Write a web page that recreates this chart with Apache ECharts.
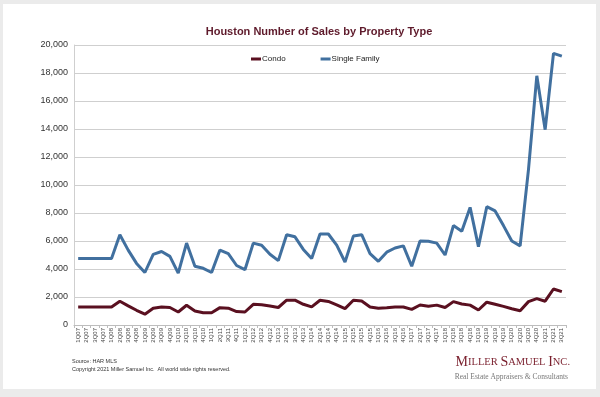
<!DOCTYPE html>
<html>
<head>
<meta charset="utf-8">
<script src="https://cdn.jsdelivr.net/npm/echarts@6/dist/echarts.min.js"></script>
<style>
  html, body { margin: 0; padding: 0; background: #ebebeb; }
  #main { width: 600px; height: 397px; }
</style>
</head>
<body>
<div id="main"></div>
<script>
// quarters, 1Q07 .. 3Q21
var quarters = [
  '1Q07', '2Q07', '3Q07', '4Q07', '1Q08', '2Q08', '3Q08', '4Q08',
  '1Q09', '2Q09', '3Q09', '4Q09', '1Q10', '2Q10', '3Q10', '4Q10',
  '1Q11', '2Q11', '3Q11', '4Q11', '1Q12', '2Q12', '3Q12', '4Q12',
  '1Q13', '2Q13', '3Q13', '4Q13', '1Q14', '2Q14', '3Q14', '4Q14',
  '1Q15', '2Q15', '3Q15', '4Q15', '1Q16', '2Q16', '3Q16', '4Q16',
  '1Q17', '2Q17', '3Q17', '4Q17', '1Q18', '2Q18', '3Q18', '4Q18',
  '1Q19', '2Q19', '3Q19', '4Q19', '1Q20', '2Q20', '3Q20', '4Q20',
  '1Q21', '2Q21', '3Q21'
];

var condo = [
  1280, 1280, 1280, 1280, 1280, 1700, 1370, 1050,
  770, 1200, 1290, 1250, 930, 1410, 1000, 880,
  880, 1240, 1200, 960, 930, 1480, 1440, 1360,
  1250, 1770, 1770, 1480, 1290, 1770, 1680, 1440,
  1170, 1770, 1720, 1290, 1200, 1240, 1290, 1290,
  1120, 1430, 1340, 1420, 1250, 1670, 1500, 1420,
  1070, 1630, 1480, 1330, 1160, 1020, 1670, 1880,
  1700, 2570, 2380
];

var singleFamily = [
  4750, 4750, 4750, 4750, 4750, 6450, 5350, 4400,
  3750, 5050, 5250, 4900, 3700, 5850, 4200, 4050,
  3750, 5350, 5100, 4250, 3950, 5850, 5700, 5050,
  4600, 6450, 6300, 5400, 4750, 6500, 6500, 5700,
  4500, 6350, 6450, 5100, 4550, 5200, 5500, 5650,
  4200, 6000, 5980, 5850, 5000, 7100, 6700, 8400,
  5600, 8450, 8150, 7100, 6000, 5650, 11100, 17800,
  13950, 19400, 19200
];

var chart = echarts.init(document.getElementById('main'), null, {
  renderer: 'canvas',
  width: 600,
  height: 397
});

var option = {
  backgroundColor: '#ebebeb',
  animation: false,
  textStyle: { fontFamily: 'Liberation Sans, Arial, sans-serif' },
  title: {
    text: 'Houston Number of Sales by Property Type',
    left: 314,
    textAlign: 'center',
    top: 21,
    textStyle: {
      fontSize: 11,
      fontWeight: 'bold',
      color: '#5e1a2b',
      fontFamily: 'Liberation Sans, Arial, sans-serif'
    }
  },
  legend: {
    data: ['Condo', 'Single Family'],
    left: 251,
    top: 55,
    padding: 0,
    icon: 'rect',
    itemWidth: 10,
    itemHeight: 3,
    itemGap: 35,
    textStyle: { fontSize: 8, color: '#222', padding: [0, 0, 0, -4] }
  },
  grid: {
    left: 74,
    right: 34,
    top: 45,
    bottom: 72
  },
  xAxis: {
    type: 'category',
    data: quarters,
    boundaryGap: true,
    axisLine: { lineStyle: { color: '#bdbdbd', width: 1 } },
    axisTick: { show: true, length: 3, lineStyle: { color: '#bdbdbd' } },
    axisLabel: {
      interval: 0,
      rotate: 90,
      fontSize: 6,
      color: '#444',
      margin: 3
    }
  },
  yAxis: {
    type: 'value',
    min: 0,
    max: 20000,
    interval: 2000,
    axisLine: { show: true, lineStyle: { color: '#cfcfcf' } },
    axisTick: { show: false },
    splitLine: { lineStyle: { color: '#cfcfcf', width: 1 } },
    axisLabel: {
      fontSize: 9,
      color: '#333',
      margin: 6,
      formatter: function (v) { return v.toLocaleString('en-US'); }
    }
  },
  series: [
    {
      name: 'Condo',
      type: 'line',
      data: condo,
      showSymbol: false,
      symbol: 'none',
      color: '#5a1020',
      lineStyle: { width: 3, color: '#5a1020' }
    },
    {
      name: 'Single Family',
      type: 'line',
      data: singleFamily,
      showSymbol: false,
      symbol: 'none',
      color: '#41709f',
      lineStyle: { width: 3, color: '#41709f' }
    }
  ],
  graphic: [
    {
      type: 'rect',
      z: -10,
      silent: true,
      shape: { x: 3, y: 4, width: 593, height: 385 },
      style: { fill: '#ffffff' }
    },
    {
      type: 'text',
      left: 72,
      top: 358,
      style: { text: 'Source: HAR MLS', fontSize: 5.5, fill: '#333', fontFamily: 'Liberation Sans, Arial' }
    },
    {
      type: 'text',
      left: 72,
      top: 366,
      style: {
        text: 'Copyright 2021 Miller Samuel Inc.  All world wide rights reserved.',
        fontSize: 5.5,
        fill: '#333',
        fontFamily: 'Liberation Sans, Arial'
      }
    },
    {
      type: 'text',
      right: 30,
      top: 355,
      style: {
        text: '{b|M}{s|ILLER }{b|S}{s|AMUEL }{b|I}{s|NC.}',
        fill: '#7a1f2d',
        rich: {
          b: { fontSize: 14, fontFamily: 'Liberation Serif, serif', fill: '#7a1f2d' },
          s: { fontSize: 10.5, fontFamily: 'Liberation Serif, serif', fill: '#7a1f2d' }
        }
      }
    },
    {
      type: 'text',
      right: 32,
      top: 373,
      style: {
        text: 'Real Estate Appraisers & Consultants',
        fontSize: 7.5,
        fill: '#777',
        fontFamily: 'Liberation Serif, serif'
      }
    }
  ]
};

chart.setOption(option);
</script>
</body>
</html>
